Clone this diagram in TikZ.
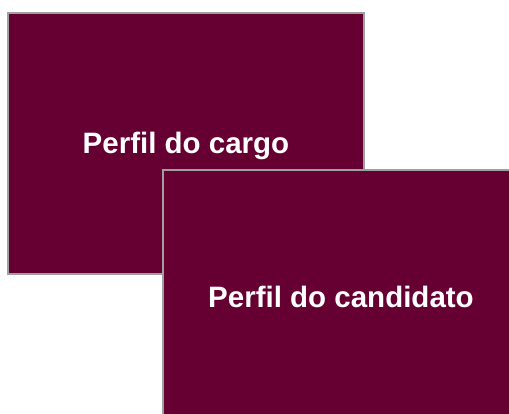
\documentclass[tikz,border=0pt]{standalone}
\usepackage{fontspec}
\setmainfont{Liberation Sans}
\definecolor{maroon}{HTML}{660033}
\definecolor{edgegray}{HTML}{A0A0A0}
\tikzset{
  panel/.style={draw=edgegray, line width=2pt, fill=maroon, text=white,
    minimum width=356pt, minimum height=261pt, inner sep=0pt,
    text height=21pt, text depth=0pt,
    font=\fontsize{29.5pt}{34pt}\selectfont\bfseries}
}
\begin{document}
\begin{tikzpicture}[x=1pt,y=1pt]
\useasboundingbox (0,0) rectangle (509,414);
\node[panel] (cargo) at (186,270.5) {Perfil do cargo};
\node[panel, minimum height=255pt] (candidato) at (341,116.5) {Perfil do candidato};
\end{tikzpicture}
\end{document}
